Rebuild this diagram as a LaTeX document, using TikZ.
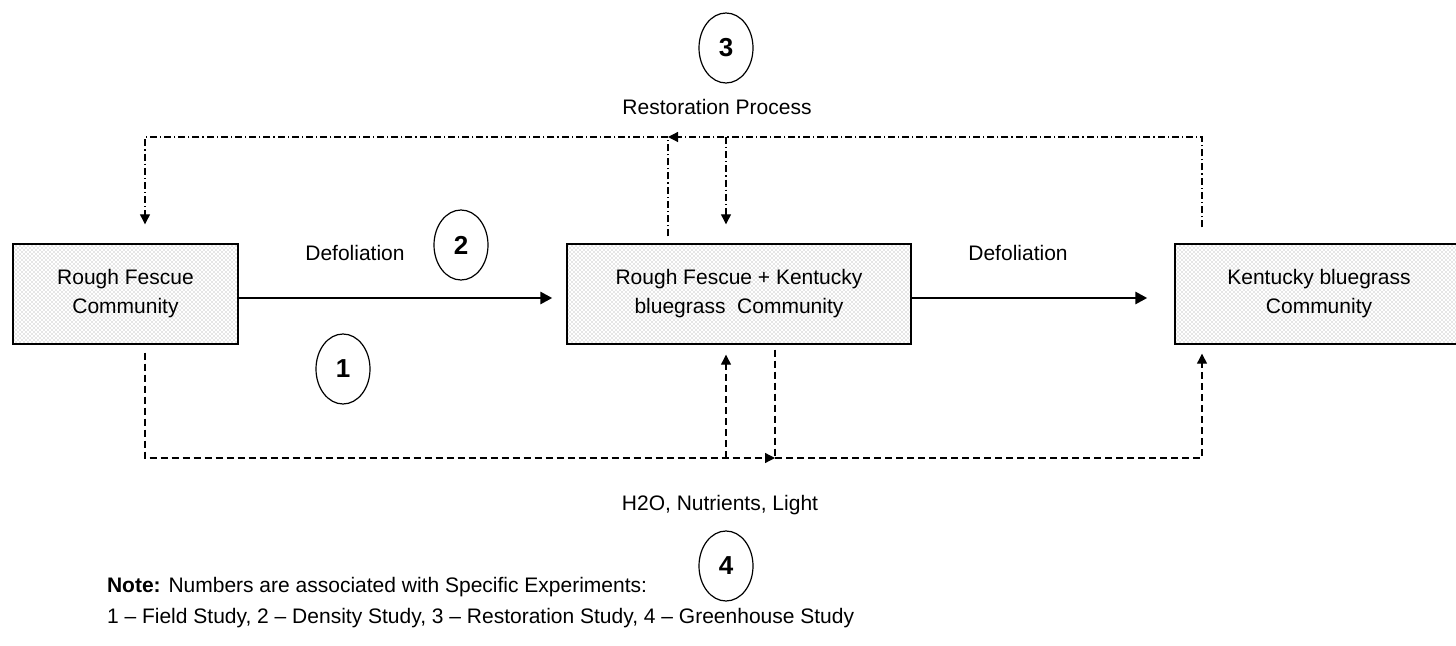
\documentclass[tikz,border=0pt]{standalone}
\usepackage{fontspec}
\setmainfont{Liberation Sans}
\usetikzlibrary{arrows.meta,shapes.geometric,patterns}
\pgfdeclarepatternformonly{finedots}{\pgfqpoint{-0.5pt}{-0.5pt}}{\pgfqpoint{2.5pt}{2.5pt}}{\pgfqpoint{2pt}{2pt}}{%
  \pgfpathcircle{\pgfqpoint{0pt}{0pt}}{0.3pt}%
  \pgfpathcircle{\pgfqpoint{1pt}{1pt}}{0.3pt}%
  \pgfusepath{fill}}
\tikzset{
  comm/.style   = {draw, line width=0.7pt, pattern=finedots, pattern color=gray!85,
                   minimum height=50pt, align=center, font=\fontsize{10.5}{14.5}\selectfont},
  num/.style    = {ellipse, draw, line width=0.6pt, minimum width=27pt, minimum height=35pt,
                   inner sep=0pt, font=\fontsize{13}{13}\selectfont\bfseries},
  lbl/.style    = {font=\fontsize{10.5}{14.5}\selectfont},
  flow/.style   = {-{Triangle[length=6pt,width=6pt]}, line width=1.4pt},
  resto/.style  = {line width=0.6pt, dash pattern=on 3.5pt off 1.5pt on 0.6pt off 1.5pt},
  supply/.style = {line width=0.6pt, dash pattern=on 3.5pt off 2pt},
  endtip/.style = {-{Triangle[length=5pt,width=5pt]}},
}
\begin{document}
\begin{tikzpicture}[x=0.5pt,y=-0.5pt]
  \clip (0,0) rectangle (1456,646);
  % communities
  \node[comm, minimum width=112.5pt] (rf)  at (125.5,294) {Rough Fescue\\Community};
  \node[comm, minimum width=172pt]   (mid) at (739,294)   {Rough Fescue + Kentucky\\bluegrass~ Community};
  \node[comm, minimum width=144pt]   (kb)  at (1319,294)  {Kentucky bluegrass\\Community};
  % defoliation
  \draw[flow] ([yshift=-2pt]rf.east) -- ([yshift=-2pt,xshift=-7pt]mid.west);
  \draw[flow] ([yshift=-2pt]mid.east) -- ([yshift=-2pt,xshift=-13.5pt]kb.west);
  \node[lbl, anchor=base] (def1) at (355,261)  {Defoliation};
  \node[lbl, anchor=base] (def2) at (1018,261) {Defoliation};
  \node[num] (n1) at (343,369) {1};
  \node[num] (n2) at (461,245) {2};
  % restoration process
  \coordinate (resL) at (145,137);
  \coordinate (resM) at (668,137);
  \coordinate (resD) at (726,137);
  \coordinate (resR) at (1202,137);
  \draw[resto, endtip, shorten <=8pt] (resR |- kb.north) -- (resR) -- (resM);
  \draw[resto, endtip, shorten <=3.5pt, shorten >=9.5pt]
    (resM |- mid.north) -- (resM) -- (resL) -- (resL |- rf.north);
  \draw[resto, endtip, shorten >=9.5pt] (resD) -- (resD |- mid.north);
  \node[lbl, anchor=base] (restxt) at (717,115) {Restoration Process};
  \node[num] (n3) at (726,48) {3};
  % resources
  \coordinate (supL) at (145,458);
  \coordinate (supA) at (726,458);
  \coordinate (supB) at (775,458);
  \coordinate (supR) at (1202,458);
  \draw[supply, endtip, shorten <=4pt] (supL |- rf.south) -- (supL) -- (supB);
  \draw[supply, shorten <=2.5pt] (supB |- mid.south) -- (supB);
  \draw[supply, endtip, shorten >=5pt] (supA) -- (supA |- mid.south);
  \draw[supply, endtip, shorten >=4.5pt] (supB) -- (supR) -- (supR |- kb.south);
  \node[lbl, anchor=base] (suptxt) at (720,510) {H2O, Nutrients, Light};
  \node[num] (n4) at (726,566) {4};
  % note
  \node[lbl, anchor=base west] (note) at (100,592)
    {\textbf{Note:} Numbers are associated with Specific Experiments:};
  \node[lbl, anchor=base west] (key) at (100,623)
    {1 – Field Study, 2 – Density Study, 3 – Restoration Study, 4 – Greenhouse Study};
\end{tikzpicture}
\end{document}
